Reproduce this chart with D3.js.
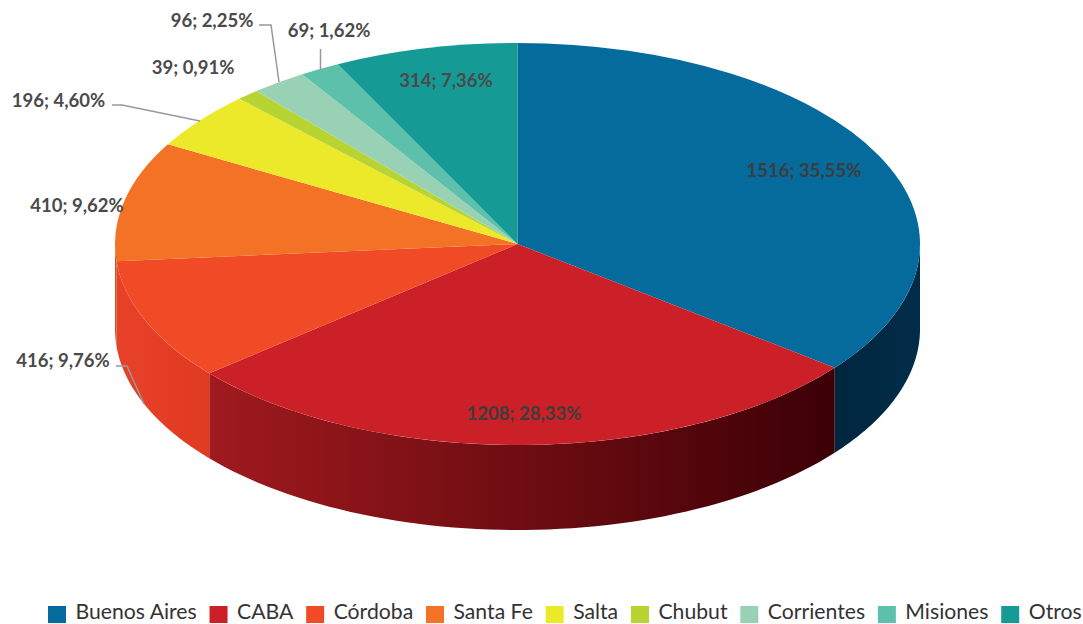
<!DOCTYPE html>
<html><head><meta charset="utf-8">
<script src="https://cdn.jsdelivr.net/npm/d3@7"></script>
<style>html,body{margin:0;padding:0;background:#fff}svg{display:block}text{font-family:Lato,sans-serif}</style>
</head><body><svg id="c" width="1083" height="624"></svg>
<script>
const categories=["Buenos Aires","CABA","Córdoba","Santa Fe","Salta","Chubut","Corrientes","Misiones","Otros"];
const values=[1516,1208,416,410,196,39,96,69,314];
const percents=["35,55","28,33","9,76","9,62","4,60","0,91","2,25","1,62","7,36"];
const colors=["#056a9c","#cb2027","#f04b26","#f47225","#ece82a","#b8d433","#98d1b4","#5cc0ab","#159a96"];
const wallStops=[["#00263f","#012c49"],["#a01a1e","#3c0006"],["#e8412a","#df3b21"],["#c9551c","#c9551c"],["#b8b31f","#b8b31f"],["#8aa024","#8aa024"],["#74a48c","#74a48c"],["#469484","#469484"],["#0f7774","#0f7774"]];
const labelAt=[[804,177],[524,420],[63,367],[77,212],[58.5,107],[193,74],[212,27],[329,37],[446,87]];
const leaders=[null,null,[[116,366],[127,366],[144,404]],null,[[112,105],[122,105],[200,121]],null,[[259,25],[271,25],[279,82]],[[320.5,49],[320.5,70]],null];
const cx=517.5,cy=244,rx=402.5,ry=201,depth=85;
const svg=d3.select("#c"),defs=svg.append("defs");
const arcs=d3.pie().sort(null).value(d=>d)(values);
const px=t=>cx+rx*Math.sin(t),py=t=>cy-ry*Math.cos(t);
const wall=d3.area().x(px).y0(py).y1(t=>py(t)+depth);
arcs.forEach((a,i)=>{
  const t0=Math.max(a.startAngle,Math.PI/2),t1=Math.min(a.endAngle,Math.PI*1.5);
  if(t1<=t0)return;
  const ts=d3.range(61).map(k=>t0+(t1-t0)*k/60);
  const xs=d3.extent(ts,px);
  const g=defs.append("linearGradient").attr("id","w"+i).attr("gradientUnits","userSpaceOnUse")
    .attr("x1",xs[0]).attr("x2",xs[1]).attr("y1",0).attr("y2",0);
  g.append("stop").attr("offset",0).attr("stop-color",wallStops[i][0]);
  g.append("stop").attr("offset",1).attr("stop-color",wallStops[i][1]);
  svg.append("path").attr("d",wall(ts)).attr("fill",`url(#w${i})`);
});
const topFace=svg.append("g").attr("transform",`translate(${cx},${cy}) scale(1,${ry/rx})`);
topFace.selectAll("path").data(arcs).join("path")
  .attr("d",d3.arc().innerRadius(0).outerRadius(rx)).attr("fill",(d,i)=>colors[i]);
const line=d3.line();
leaders.forEach(l=>{if(l)svg.append("path").attr("d",line(l)).attr("fill","none").attr("stroke","#999").attr("stroke-width",1.5)});
svg.selectAll("text.lab").data(values).join("text").attr("class","lab")
  .attr("x",(d,i)=>labelAt[i][0]).attr("y",(d,i)=>labelAt[i][1]).attr("text-anchor","middle")
  .attr("font-size",18.5).attr("font-weight",700).attr("fill",(d,i)=>i<2?"#3d3d3d":"#4a4a4a")
  .text((d,i)=>`${d}; ${percents[i]}%`);
let x=48;const legY=613;
categories.forEach((c,i)=>{
  svg.append("rect").attr("x",x).attr("y",legY-7).attr("width",18).attr("height",17).attr("fill",colors[i]);
  const t=svg.append("text").attr("x",x+27.5).attr("y",legY+6).attr("font-size",21.2).attr("fill","#333").text(c);
  x+=27.5+t.node().getComputedTextLength()+12.8;
});
</script></body></html>
